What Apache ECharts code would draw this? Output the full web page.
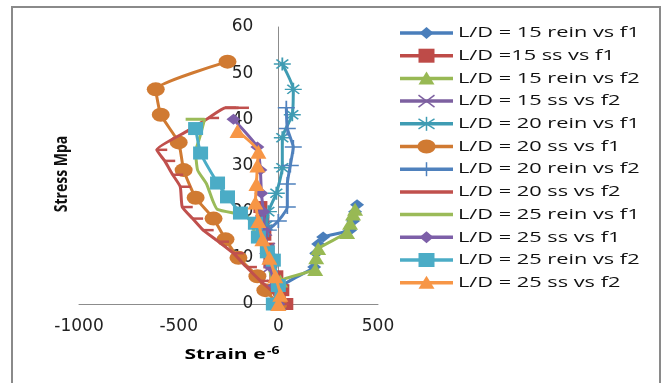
<!DOCTYPE html>
<html lang="en">
<head>
  <meta charset="UTF-8">
  <title>Stress vs Strain</title>
  <script src="https://cdn.jsdelivr.net/npm/echarts@6/dist/echarts.min.js"></script>
  <style>
    html, body { margin: 0; padding: 0; background: #fff; }
    #main { width: 668px; height: 383px; }
  </style>
</head>
<body>
  <div id="main"></div>
  <script>
  // [strain, stress] pairs
  const names = [
    'L/D = 15 rein vs f1', 'L/D =15 ss vs f1', 'L/D = 15 rein vs f2', 'L/D = 15 ss vs f2',
    'L/D = 20 rein vs f1', 'L/D = 20 ss vs f1', 'L/D = 20 rein vs f2', 'L/D = 20 ss vs f2',
    'L/D = 25 rein vs f1', 'L/D = 25 ss vs f1', 'L/D = 25 rein vs f2', 'L/D = 25 ss vs f2'
  ];
  const ld15ReinF1 = [[0,0],[20,4],[180,8],[190,11],[200,13],[225,14.5],[360,16],[375,18],[385,20],[395,21.5]];
  const ld15SsF1 = [[40,0],[20,3],[-10,6],[-40,9],[-55,12],[-70,15],[-80,18],[-90,21]];
  const ld15ReinF2 = [[0,0],[10,5],[185,7.5],[190,10],[200,12],[345,15.5],[360,17.5],[375,19.5],[385,20.5]];
  const ld15SsF2 = [[0,0],[-20,4],[-40,8],[-55,12],[-70,16],[-80,19]];
  const ld20ReinF1 = [[20,52],[75,46.5],[70,41],[20,36],[20,29.5],[-10,24],[-50,20],[-60,17]];
  const ld20SsF1 = [[0,0],[-65,3],[-105,6],[-200,10],[-265,14],[-325,18.5],[-415,23],[-475,29],[-500,35],[-590,41],[-615,46.5],[-255,52.5]];
  const ld20ReinF2 = [[40,42.5],[45,38],[75,34],[60,30],[45,26],[45,21],[0,18],[-50,16]];
  const ld20SsF2 = [[0,0],[-25,2.5],[-90,5],[-160,8],[-226,11],[-300,13.5],[-377,16],[-430,18.5],[-482,21],[-492,25.4],[-530,28],[-570,31],[-610,33.4],[-455,37.5],[-350,40.3],[-265,42.5],[-200,42.5]];
  const ld25ReinF1 = [[0,0],[-30,5],[-60,10],[-100,14],[-135,17],[-156,19],[-306,20.5],[-330,22.5],[-360,26],[-405,29],[-415,33],[-395,36],[-370,40],[-465,40]];
  const ld25SsF1 = [[0,0],[-20,4],[-40,8],[-55,12],[-70,16],[-75,20],[-85,24],[-90,29],[-105,34],[-225,40]];
  const ld25ReinF2 = [[-25,0],[0,4],[-25,9.5],[-55,11.3],[-100,14.5],[-115,17.5],[-190,19.7],[-255,23.2],[-305,26.2],[-390,32.7],[-415,38]];
  const ld25SsF2 = [[0,0],[10,2],[-15,6],[-45,10],[-80,14],[-100,18],[-115,22],[-110,26],[-105,30],[-100,33],[-205,37.5]];
  const xTicks = [-1000, -500, 0, 500];
  const yTicks = [0, 10, 20, 30, 40, 50, 60];

  const star = 'path://M0,5L10,5M5,0L5,10M1.5,1.5L8.5,8.5M8.5,1.5L1.5,8.5';
  const plus = 'path://M0,5L10,5M5,0L5,10';
  const cross = 'path://M0,0L10,10M10,0L0,10';

  // colour, symbol, symbol size [w, h], stroked symbol?
  // the source picture is stretched sideways, so marks are wider than tall
  const looks = [
    ['#4A7EBB', 'diamond', [14, 11], false],
    ['#BE4B48', 'rect', [14, 12], false],
    ['#98B954', 'triangle', [16, 13], false],
    ['#7D60A0', cross, [15, 11], true],
    ['#3F9CB3', star, [17, 13], true],
    ['#D07A32', 'circle', [18, 14], false],
    ['#4F81BD', plus, [17, 14], true],
    ['#C0504D', 'rect', [11, 2.5], false],
    ['#9BBB59', 'none', 1, false],
    ['#7D5FA8', 'diamond', [14, 11], false],
    ['#4BACC6', 'rect', [15, 13], false],
    ['#F79646', 'triangle', [16, 14], false]
  ];
  const datasets = [ld15ReinF1, ld15SsF1, ld15ReinF2, ld15SsF2, ld20ReinF1, ld20SsF1,
    ld20ReinF2, ld20SsF2, ld25ReinF1, ld25SsF1, ld25ReinF2, ld25SsF2];

  const series = datasets.map((d, i) => {
    const [c, sym, size, stroked] = looks[i];
    return {
      name: names[i],
      type: 'line',
      data: d,
      smooth: 0.15,
      symbol: sym,
      symbolSize: size,
      // the dash marks sit just right of the red line
      symbolOffset: i === 7 ? [5, 0] : [0, 0],
      showSymbol: sym !== 'none',
      lineStyle: { color: c, width: 3 },
      itemStyle: stroked
        ? { color: c, borderColor: c, borderWidth: 1.6 }
        : { color: c, borderWidth: 0 },
      emphasis: { disabled: true },
      z: 2 + i
    };
  });

  // legend key marker for row i, centred at (cx, cy), made of plain shapes
  function keyMarker(i, cx, cy) {
    const [c, sym] = looks[i];
    const seg = (x1, y1, x2, y2) => ({ type: 'line', shape: { x1: cx + x1, y1: cy + y1, x2: cx + x2, y2: cy + y2 }, style: { stroke: c, lineWidth: 1.5 } });
    if (i === 7) return [];
    if (sym === 'diamond') return [{ type: 'polygon', shape: { points: [[cx, cy - 6], [cx + 7, cy], [cx, cy + 6], [cx - 7, cy]] }, style: { fill: c } }];
    if (sym === 'rect') return [{ type: 'rect', shape: { x: cx - 8, y: cy - 7, width: 16, height: 14 }, style: { fill: c } }];
    if (sym === 'triangle') return [{ type: 'polygon', shape: { points: [[cx, cy - 7], [cx + 8, cy + 6], [cx - 8, cy + 6]] }, style: { fill: c } }];
    if (sym === 'circle') return [{ type: 'ellipse', shape: { cx: cx, cy: cy, rx: 9, ry: 7 }, style: { fill: c } }];
    if (sym === cross) return [seg(-8, -6, 8, 6), seg(8, -6, -8, 6)];
    if (sym === star) return [seg(0, -7, 0, 7), seg(-8, -5, 8, 5), seg(8, -5, -8, 5)];
    if (sym === plus) return [seg(0, -7, 0, 7)];
    return [];
  }

  const legendItems = [];
  names.forEach((n, i) => {
    const y = 33 + 22.7 * i;
    const c = looks[i][0];
    legendItems.push({ type: 'line', shape: { x1: 400, y1: y, x2: 453, y2: y }, style: { stroke: c, lineWidth: 3.5 } });
    keyMarker(i, 426.5, y).forEach(m => legendItems.push(m));
    legendItems.push({ type: 'text', x: 458, y: y, scaleX: 1.45,
      style: { text: n, font: '15px "Open Sans"', fill: '#111', verticalAlign: 'middle', align: 'left' } });
  });

  const chart = echarts.init(document.getElementById('main'));
  chart.setOption({
    animation: false,
    grid: { left: 79, right: 290, top: 27, bottom: 79 },
    xAxis: {
      type: 'value', min: -1000, max: 500, interval: 500,
      axisLine: { onZero: true, lineStyle: { color: '#8C8C8C', width: 1 } },
      axisTick: { show: false },
      splitLine: { show: false },
      axisLabel: {
        margin: 14, fontSize: 17, color: '#222', fontFamily: 'DejaVu Sans',
        formatter: v => xTicks.includes(v) ? String(v) : ''
      }
    },
    yAxis: {
      type: 'value', min: 0, max: 60, interval: 10,
      // shift the axis inward so it sits on strain = 0
      offset: -199.3,
      axisLine: { show: true, onZero: false, lineStyle: { color: '#8C8C8C', width: 1 } },
      axisTick: { show: false },
      splitLine: { show: false },
      axisLabel: {
        margin: 25, fontSize: 17, color: '#222', fontFamily: 'DejaVu Sans',
        formatter: v => yTicks.includes(v) ? String(v) : ''
      }
    },
    graphic: [
      { type: 'polyline', shape: { points: [[12, 383], [12, 7], [660, 7], [660, 383]] },
        style: { stroke: '#8A8A8A', lineWidth: 2, fill: null }, silent: true },
      { type: 'text', x: 62, y: 174, rotation: Math.PI / 2, scaleY: 1.3,
        style: { text: 'Stress Mpa', font: 'bold 14px "Open Sans"', fill: '#111',
          align: 'center', verticalAlign: 'middle' } },
      { type: 'text', x: 232, y: 355, scaleX: 1.4,
        style: { text: '{a|Strain e}{b|-6}', align: 'center', verticalAlign: 'middle',
          rich: {
            a: { font: 'bold 15px "Open Sans"', color: '#111' },
            b: { font: 'bold 10px "Open Sans"', color: '#111', verticalAlign: 'top', padding: [0, 0, 8, 1] }
          } } },
      { type: 'group', silent: true, children: legendItems }
    ],
    series: series
  });
  </script>
</body>
</html>
